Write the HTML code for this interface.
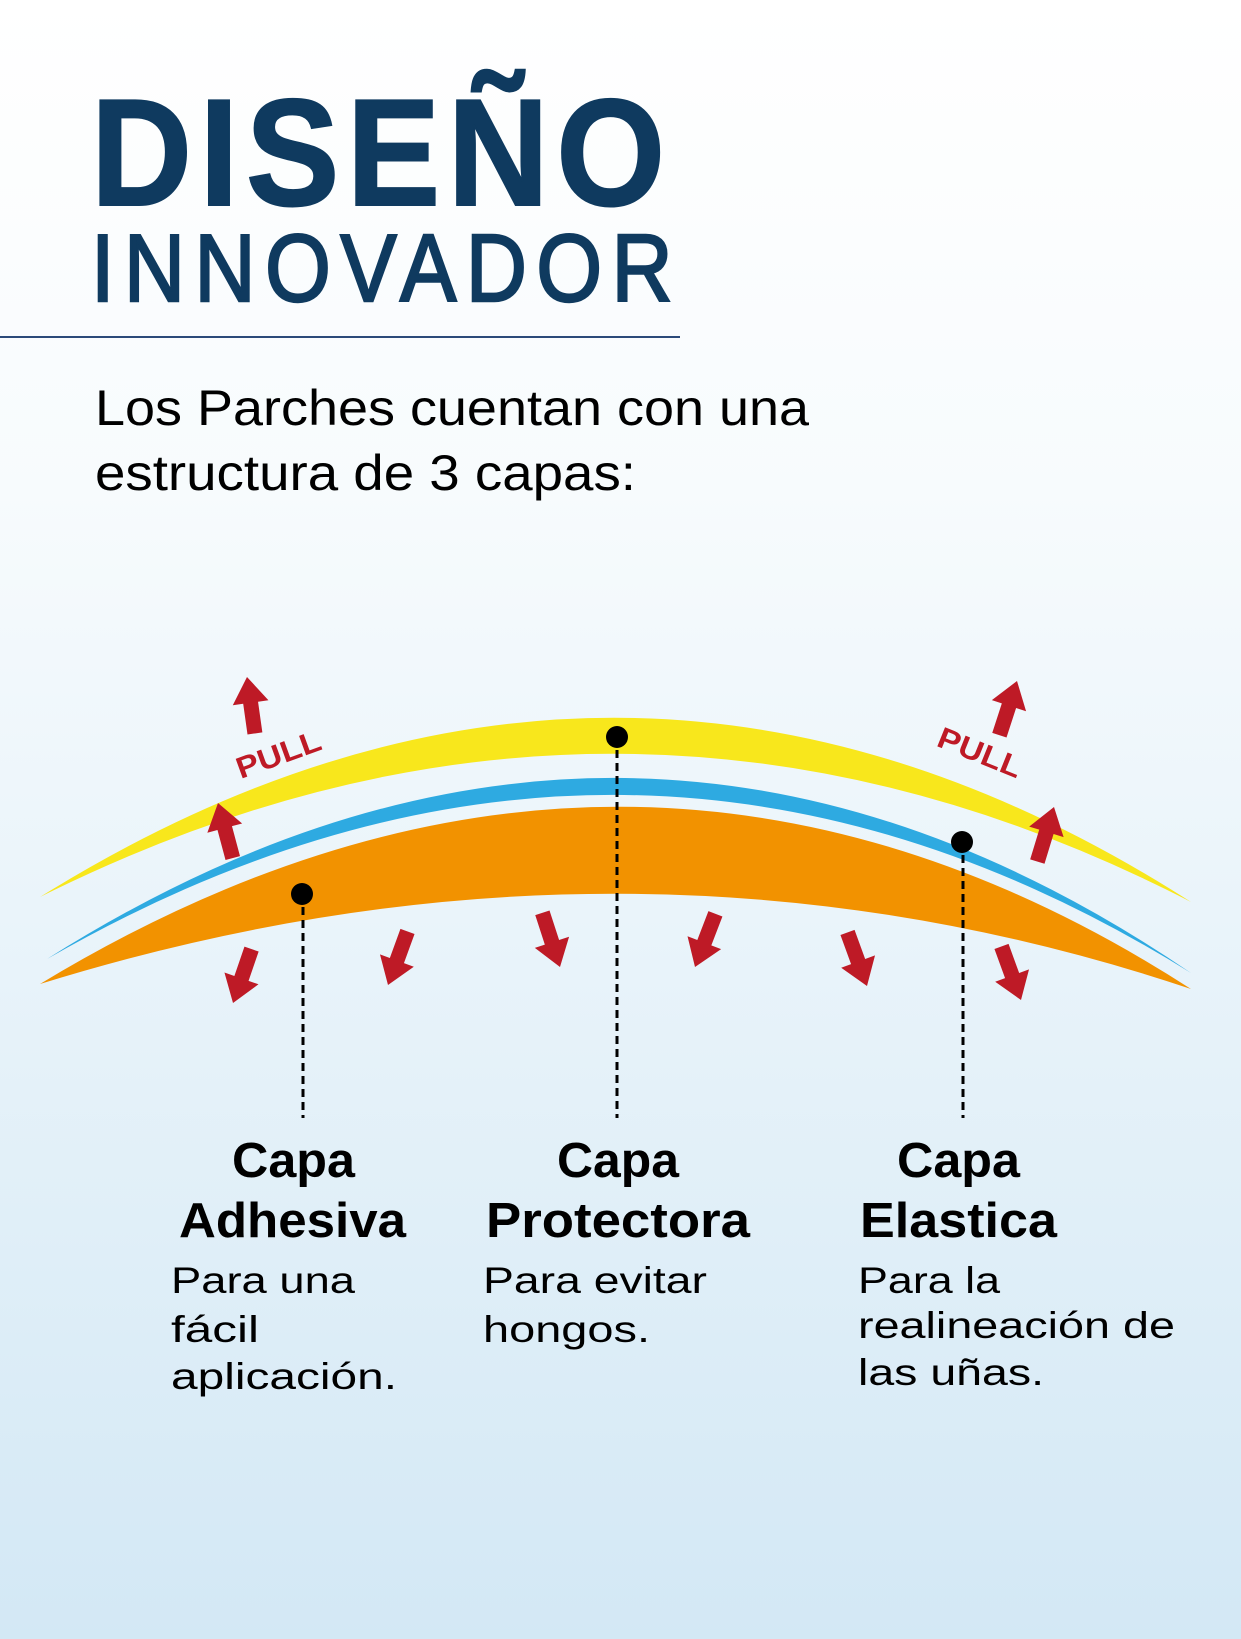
<!DOCTYPE html>
<html><head><meta charset="utf-8"><style>
html,body{margin:0;padding:0}
body{width:1241px;height:1639px;overflow:hidden}
svg{display:block}
text{font-family:"Liberation Sans",sans-serif}
</style></head><body>
<svg width="1241" height="1639" viewBox="0 0 1241 1639" xmlns="http://www.w3.org/2000/svg">
<defs>
<linearGradient id="bg" x1="0" y1="0" x2="0" y2="1">
<stop offset="0" stop-color="#ffffff"/>
<stop offset="0.3" stop-color="#f7fbfd"/>
<stop offset="1" stop-color="#d3e8f5"/>
</linearGradient>
<polygon id="ar" points="0,0 18,26 7.5,26 7.5,57 -7.5,57 -7.5,26 -18,26" fill="#be1a26"/>
</defs>
<rect width="1241" height="1639" fill="url(#bg)"/>

<g transform="scale(0.92,1)">
<text x="98.9" y="205" font-size="152" font-weight="bold" fill="#0f3a5f" stroke="#0f3a5f" stroke-width="2" textLength="624" lengthAdjust="spacing">DISEÑO</text>
</g>
<g transform="scale(0.88,1)">
<text x="103.4" y="301" font-size="96" fill="#0f3a5f" stroke="#0f3a5f" stroke-width="2.5" textLength="661" lengthAdjust="spacing">INNOVADOR</text>
</g>
<rect x="0" y="336" width="680" height="2" fill="#2c4a7a"/>

<text x="95" y="425" font-size="50" fill="#000" textLength="714" lengthAdjust="spacingAndGlyphs">Los Parches cuentan con una</text>
<text x="95" y="490" font-size="50" fill="#000" textLength="541" lengthAdjust="spacingAndGlyphs">estructura de 3 capas:</text>

<path d="M40,897 Q620,536 1191,902 Q620,608 40,897 Z" fill="#f8e71c"/>
<path d="M47,959 Q630,590 1191,973 Q630,624 47,959 Z" fill="#2eaae1"/>
<path d="M40,984 Q630,627 1191,989 Q630,801 40,984 Z" fill="#f29200"/>

<use href="#ar" transform="translate(247,677) rotate(-8)"/>
<use href="#ar" transform="translate(1017,681) rotate(18)"/>
<use href="#ar" transform="translate(218,803) rotate(-15)"/>
<use href="#ar" transform="translate(1054,807) rotate(17)"/>
<use href="#ar" transform="translate(233,1003) rotate(-161)"/>
<use href="#ar" transform="translate(388,985) rotate(-160)"/>
<use href="#ar" transform="translate(560,967) rotate(162)"/>
<use href="#ar" transform="translate(695,967) rotate(-159)"/>
<use href="#ar" transform="translate(867,986) rotate(160)"/>
<use href="#ar" transform="translate(1021,1000) rotate(160)"/>

<text x="0" y="0" font-size="30" font-weight="bold" fill="#be1a26" text-anchor="middle" transform="translate(282,764) rotate(-20)" textLength="88" lengthAdjust="spacingAndGlyphs">PULL</text>
<text x="0" y="0" font-size="30" font-weight="bold" fill="#be1a26" text-anchor="middle" transform="translate(976,762) rotate(22)" textLength="88" lengthAdjust="spacingAndGlyphs">PULL</text>

<g stroke="#000" stroke-width="3" stroke-dasharray="8,5">
<line x1="303" y1="894" x2="303" y2="1118"/>
<line x1="617" y1="737" x2="617" y2="1118"/>
<line x1="963" y1="842" x2="963" y2="1118"/>
</g>
<circle cx="302" cy="894" r="11" fill="#000"/>
<circle cx="617" cy="737" r="11" fill="#000"/>
<circle cx="962" cy="842" r="11" fill="#000"/>

<g font-size="49" font-weight="bold" fill="#000">
<text x="232" y="1177" textLength="123" lengthAdjust="spacingAndGlyphs">Capa</text>
<text x="179" y="1237" textLength="227" lengthAdjust="spacingAndGlyphs">Adhesiva</text>
<text x="557" y="1177" textLength="122" lengthAdjust="spacingAndGlyphs">Capa</text>
<text x="486" y="1237" textLength="264" lengthAdjust="spacingAndGlyphs">Protectora</text>
<text x="897" y="1177" textLength="123" lengthAdjust="spacingAndGlyphs">Capa</text>
<text x="860" y="1237" textLength="197" lengthAdjust="spacingAndGlyphs">Elastica</text>
</g>
<g font-size="37" fill="#000">
<text x="171" y="1293" textLength="184" lengthAdjust="spacingAndGlyphs">Para una</text>
<text x="171" y="1342" textLength="88" lengthAdjust="spacingAndGlyphs">fácil</text>
<text x="171" y="1389" textLength="226" lengthAdjust="spacingAndGlyphs">aplicación.</text>
<text x="483" y="1293" textLength="224" lengthAdjust="spacingAndGlyphs">Para evitar</text>
<text x="483" y="1342" textLength="167" lengthAdjust="spacingAndGlyphs">hongos.</text>
<text x="858" y="1293" textLength="142" lengthAdjust="spacingAndGlyphs">Para la</text>
<text x="858" y="1338" textLength="317" lengthAdjust="spacingAndGlyphs">realineación de</text>
<text x="858" y="1385" textLength="186" lengthAdjust="spacingAndGlyphs">las uñas.</text>
</g>
</svg>
</body></html>
